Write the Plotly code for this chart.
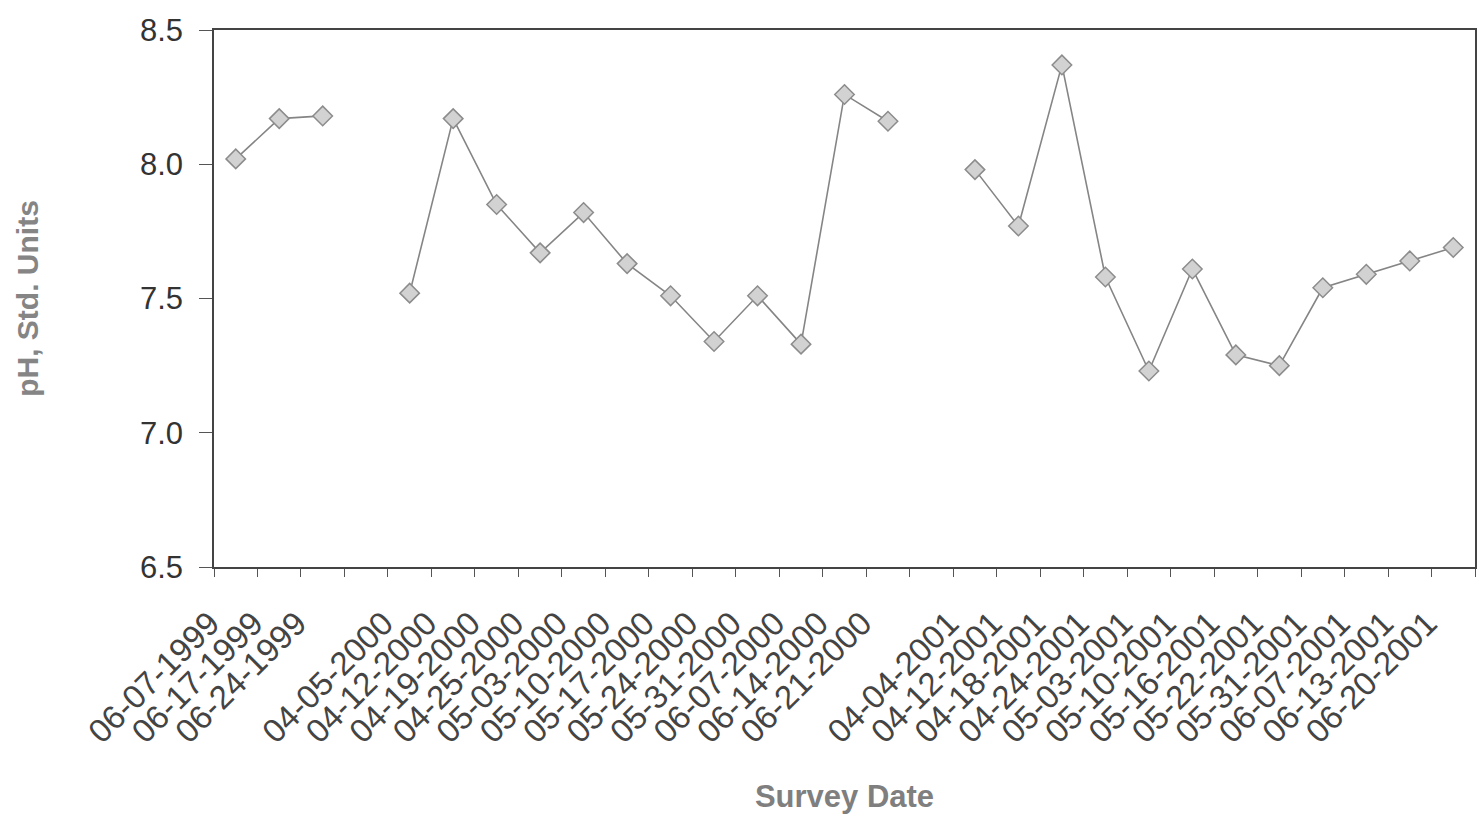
import plotly.graph_objects as go

# Survey dates; blank entries separate the three sampling seasons
survey_dates = [
    "06-07-1999", "06-17-1999", "06-24-1999", " ",
    "04-05-2000", "04-12-2000", "04-19-2000", "04-25-2000", "05-03-2000", "05-10-2000",
    "05-17-2000", "05-24-2000", "05-31-2000", "06-07-2000", "06-14-2000", "06-21-2000", "  ",
    "04-04-2001", "04-12-2001", "04-18-2001", "04-24-2001", "05-03-2001", "05-10-2001",
    "05-16-2001", "05-22-2001", "05-31-2001", "06-07-2001", "06-13-2001", "06-20-2001",
]

# pH readings (None where no survey was taken)
ph_values = [
    8.02, 8.17, 8.18, None,
    7.52, 8.17, 7.85, 7.67, 7.82, 7.63,
    7.51, 7.34, 7.51, 7.33, 8.26, 8.16, None,
    7.98, 7.77, 8.37, 7.58, 7.23, 7.61,
    7.29, 7.25, 7.54, 7.59, 7.64, 7.69,
]

y_ticks = [6.5, 7.0, 7.5, 8.0, 8.5]

fig = go.Figure(
    go.Scatter(
        x=survey_dates,
        y=ph_values,
        mode="lines+markers",
        connectgaps=False,
        line=dict(color="#858585", width=1.6),
        marker=dict(
            symbol="diamond",
            size=15,
            color="#d2d2d2",
            line=dict(color="#8c8c8c", width=1.5),
        ),
        showlegend=False,
    )
)

fig.update_layout(
    width=1479,
    height=817,
    margin=dict(l=214, r=2, t=30, b=250),
    paper_bgcolor="white",
    plot_bgcolor="white",
    font=dict(family="Liberation Sans, Arial, sans-serif", color="#333333"),
)

fig.update_xaxes(
    type="category",
    categoryorder="array",
    categoryarray=survey_dates,
    range=[-0.5, len(survey_dates) - 0.5],
    tickson="boundaries",
    ticks="outside",
    ticklen=8,
    tickwidth=1,
    tickcolor="#555555",
    tickangle=-45,
    ticklabelstandoff=22,
    ticklabelshift=-26,
    tickfont=dict(size=33, color="#444444"),
    showline=True,
    linecolor="#444444",
    linewidth=1.5,
    mirror=True,
    showgrid=False,
    zeroline=False,
    title=dict(
        text="<b>Survey Date</b>",
        font=dict(size=31, color="#7f7f7f", family="Liberation Sans, Arial, sans-serif"),
        standoff=36,
    ),
)

fig.update_yaxes(
    range=[6.5, 8.5],
    tickvals=y_ticks,
    tickformat=".1f",
    ticks="outside",
    ticklen=13,
    tickwidth=1,
    tickcolor="#555555",
    ticklabelstandoff=10,
    tickfont=dict(size=31, color="#333333"),
    showline=True,
    linecolor="#444444",
    linewidth=1.5,
    mirror=True,
    showgrid=False,
    zeroline=False,
    title=dict(
        text="<b>pH, Std. Units</b>",
        font=dict(size=30, color="#858585", family="Liberation Sans, Arial, sans-serif"),
        standoff=92,
    ),
)

fig.write_html("out.html")
